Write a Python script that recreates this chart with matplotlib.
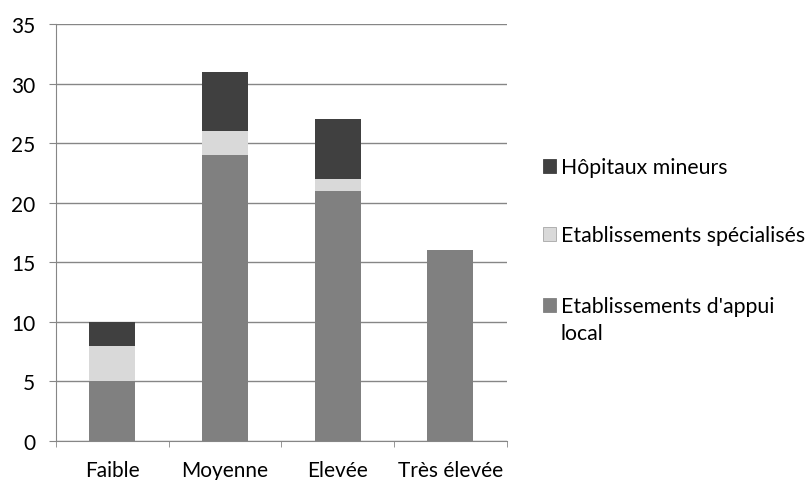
import numpy as np
import matplotlib
matplotlib.use("Agg")
import matplotlib.pyplot as plt
import matplotlib.patches as mpatches

plt.rcParams['font.family'] = ['Lato', 'DejaVu Sans']

categories = ['Faible', 'Moyenne', 'Elevée', 'Très élevée']
appui_local = [5, 24, 21, 16]
specialises = [3, 2, 1, 0]
hopitaux = [2, 5, 5, 0]

series_labels = ['Hôpitaux mineurs', 'Etablissements spécialisés',
                 "Etablissements d'appui\nlocal"]

c_dark = '#404040'
c_light = '#d9d9d9'
c_mid = '#808080'
W, H = 806, 481

fig = plt.figure(figsize=(8.06, 4.81), dpi=100)
ax = fig.add_axes([0.0695, 0.081, 0.559, 0.867])

x = np.arange(len(categories))
w = 0.41
base = np.array(appui_local)
mid = base + np.array(specialises)
ax.bar(x, appui_local, w, color=c_mid, zorder=3)
ax.bar(x, specialises, w, bottom=base, color=c_light, zorder=3)
ax.bar(x, hopitaux, w, bottom=mid, color=c_dark, zorder=3)

ax.set_xlim(-0.5, len(categories) - 0.5)
ax.set_ylim(0, 35)
ax.set_yticks(range(0, 36, 5))
ax.yaxis.grid(True, color='#868686', linewidth=1, zorder=0)
ax.set_xticks(x)
ax.set_xticklabels(categories)
ax.set_xticks(np.arange(-0.5, len(categories), 1), minor=True)
ax.tick_params(axis='x', which='major', length=0, pad=14, labelsize=15)
ax.tick_params(axis='x', which='minor', length=4.5, color='#868686')
ax.tick_params(axis='y', length=5, color='#868686', labelsize=15, pad=10)

for s in ['top', 'right']:
    ax.spines[s].set_visible(False)
for s in ['left', 'bottom']:
    ax.spines[s].set_color('#868686')

# legend drawn by hand so the swatch sits on the first line of the label
legend_colors = [c_dark, c_light, c_mid]
legend_base = [174, 242, 313]
for lab, col, yb in zip(series_labels, legend_colors, legend_base):
    fig.patches.append(mpatches.Rectangle((543 / W, 1 - yb / H), 13 / W, 14 / H,
                                          transform=fig.transFigure,
                                          facecolor=col,
                                          edgecolor='#a6a6a6' if col == c_light else col,
                                          linewidth=0.6))
    for i, line in enumerate(lab.split('\n')):
        fig.text(561 / W, 1 - (yb + 27 * i) / H, line, fontsize=15.3,
                 va='baseline', ha='left')

fig.savefig('out.png', dpi=100)
